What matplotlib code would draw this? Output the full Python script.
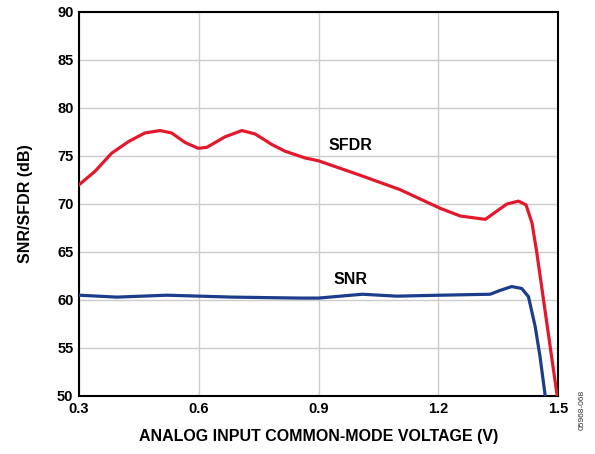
import matplotlib
matplotlib.use("Agg")
import matplotlib.pyplot as plt

plt.rcParams['font.family'] = ['Liberation Sans', 'DejaVu Sans']
plt.rcParams['font.weight'] = 'bold'

# common-mode voltage (V) vs SFDR (dB)
sfdr_v = [0.300, 0.340, 0.382, 0.424, 0.465, 0.503, 0.532, 0.566, 0.599, 0.620,
          0.666, 0.708, 0.741, 0.783, 0.816, 0.866, 0.900, 1.004, 1.104, 1.205,
          1.255, 1.318, 1.338, 1.372, 1.401, 1.420, 1.435, 1.447, 1.472, 1.498]
sfdr_db = [72.0, 73.4, 75.3, 76.5, 77.4, 77.65, 77.4, 76.4, 75.8, 75.9,
           77.0, 77.65, 77.3, 76.2, 75.5, 74.8, 74.5, 73.0, 71.5, 69.55,
           68.75, 68.4, 69.0, 70.0, 70.3, 69.9, 68.0, 64.9, 57.6, 50.0]

# common-mode voltage (V) vs SNR (dB)
snr_v = [0.300, 0.395, 0.520, 0.686, 0.854, 0.900, 1.010, 1.096, 1.205, 1.330,
         1.355, 1.384, 1.409, 1.426, 1.443, 1.455, 1.468]
snr_db = [60.5, 60.3, 60.5, 60.3, 60.2, 60.2, 60.6, 60.4, 60.5, 60.6,
          61.0, 61.4, 61.2, 60.35, 57.2, 54.1, 50.0]

x_ticks = [0.3, 0.6, 0.9, 1.2, 1.5]
y_ticks = [50, 55, 60, 65, 70, 75, 80, 85, 90]

fig = plt.figure(figsize=(5.95, 4.54), dpi=100)
ax = fig.add_axes([79 / 595, 1 - 396 / 454, 479 / 595, 384 / 454])

ax.plot(sfdr_v, sfdr_db, color='#e2192c', lw=2.3, solid_joinstyle='round', zorder=3)
ax.plot(snr_v, snr_db, color='#1c3c8c', lw=2.3, solid_joinstyle='round', zorder=3)

ax.text(0.981, 76.1, 'SFDR', fontsize=11.5, fontweight='bold', ha='center', va='center')
ax.text(0.981, 62.1, 'SNR', fontsize=11.5, fontweight='bold', ha='center', va='center')

ax.set_xlim(0.3, 1.5)
ax.set_ylim(50, 90)
ax.set_xticks(x_ticks)
ax.set_yticks(y_ticks)
ax.set_xticklabels([f'{t:.1f}' for t in x_ticks])
ax.tick_params(length=0, labelsize=10.5, pad=4)
for lab in ax.get_xticklabels() + ax.get_yticklabels():
    lab.set_fontweight('bold')

ax.grid(True, color='#cccccc', lw=1.0)
ax.set_axisbelow(True)
for sp in ax.spines.values():
    sp.set_color('black')
    sp.set_linewidth(1.5)

ax.set_xlabel('ANALOG INPUT COMMON-MODE VOLTAGE (V)', fontsize=11.5, fontweight='bold', labelpad=10)
ax.set_ylabel('SNR/SFDR (dB)', fontsize=11.5, fontweight='bold', labelpad=17)

fig.text(582 / 595, 1 - 410 / 454, '05968-068', fontsize=6, fontweight='normal',
         rotation=90, ha='center', va='center', color='#333333')

fig.savefig('out.png', dpi=100)
